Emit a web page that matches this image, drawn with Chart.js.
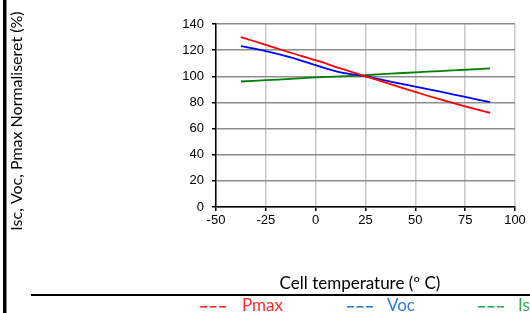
<!DOCTYPE html>
<html>
<head>
<meta charset="utf-8">
<script src="https://cdn.jsdelivr.net/npm/chart.js@4"></script>
<style>
  html, body { margin: 0; padding: 0; background: #fff; }
  #wrap { position: relative; width: 530px; height: 313px; }
</style>
</head>
<body>
<div id="wrap"><canvas id="grafico" width="530" height="313"></canvas></div>
<script>
// temperaturas de celda (x) y valores normalizados (%)
const temperaturas = [-37.5, -25, -12.5, 0, 12.5, 25, 37.5, 50, 62.5, 75, 87.5];
const valores_pmax = [130, 124, 118, 112.3, 106, 100, 94, 88, 82.3, 77, 72];
const valores_voc  = [123, 119.3, 114.5, 108.5, 103, 100, 96, 92, 88.2, 84.2, 80.2];
const valores_isc  = [96, 97, 98, 99.2, 100, 100.8, 102, 103, 104, 105, 106];

const etiquetas = ["Pmax", "Voc", "Isc"];
const tituloY = "Isc, Voc, Pmax Normaliseret (%)";
const tituloX = "Cell temperature (\u00BA C)";

const colorPmax = '#ff0000';
const colorVoc = '#0000ff';
const colorIsc = '#008000';

const leyendaPmax = '#ff2a2a';
const leyendaVoc = '#2b7ed4';
const leyendaIsc = '#2fb050';

function puntos(valores){
    return temperaturas.map((t, i) => ({x: t, y: valores[i]}));
}

// textos, leyenda y lineas negras del marco
const decoracion = {
    id: 'decoracion',
    afterDraw(chart){
        const c = chart.ctx;
        c.save();
        c.fillStyle = '#000';
        c.fillRect(3, 0, 3.5, 313);
        c.fillRect(31, 294, 499, 2);

        c.textAlign = 'center';
        c.textBaseline = 'middle';
        c.fillStyle = '#000';
        c.save();
        c.font = '16px Lato';
        c.translate(17, 121);
        c.rotate(-Math.PI / 2);
        c.fillText(tituloY, 0, 0);
        c.restore();
        c.font = '17px Lato';
        c.fillText(tituloX, 360, 284);

        const ley = [
            {x: 200, tx: 242, color: leyendaPmax, label: etiquetas[0]},
            {x: 347, tx: 387, color: leyendaVoc, label: etiquetas[1]},
            {x: 478, tx: 518, color: leyendaIsc, label: etiquetas[2]}
        ];
        c.textAlign = 'left';
        ley.forEach(l => {
            c.fillStyle = l.color;
            for (let k = 0; k < 3; k++) {
                c.fillRect(l.x + k * 9.5, 306, 7, 1.6);
            }
            c.fillText(l.label, l.tx, 306);
        });
        c.restore();
    }
};

function grafico_lineas(){
    const ctx = document.getElementById("grafico");
    new Chart(ctx, {
        type: 'line',
        data: {
            datasets: [{
                label: etiquetas[0],
                data: puntos(valores_pmax),
                borderColor: colorPmax,
                backgroundColor: colorPmax,
                borderWidth: 1.8,
                pointRadius: 0,
                tension: 0.3,
                fill: false
            },
            {
                label: etiquetas[1],
                data: puntos(valores_voc),
                borderColor: colorVoc,
                backgroundColor: colorVoc,
                borderWidth: 1.8,
                pointRadius: 0,
                tension: 0.3,
                fill: false
            },
            {
                label: etiquetas[2],
                data: puntos(valores_isc),
                borderColor: colorIsc,
                backgroundColor: colorIsc,
                borderWidth: 1.8,
                pointRadius: 0,
                tension: 0.3,
                fill: false
            }]
        },
        options: {
            responsive: false,
            animation: false,
            layout: { padding: { left: 0, top: 24, right: 15, bottom: 0 } },
            plugins: { legend: { display: false }, tooltip: { enabled: false } },
            scales: {
                x: {
                    type: 'linear',
                    min: -50,
                    max: 100,
                    afterFit(scale){ scale.height = 106; },
                    ticks: {
                        stepSize: 12.5,
                        autoSkip: false,
                        maxRotation: 0,
                        padding: 2,
                        color: '#000',
                        font: { family: 'Liberation Sans', size: 13 },
                        callback: v => (v % 25 === 0 ? v : null)
                    },
                    grid: { color: '#c8c8c8', lineWidth: 1.5, tickColor: '#000', tickLength: 4 },
                    border: { color: '#000', width: 1.5 }
                },
                y: {
                    min: 0,
                    max: 140,
                    afterFit(scale){ scale.width = 216; },
                    ticks: {
                        stepSize: 20,
                        padding: 8,
                        color: '#000',
                        font: { family: 'Liberation Sans', size: 13 }
                    },
                    grid: { color: '#8c8c8c', lineWidth: 1.5, tickColor: '#000', tickLength: 4 },
                    border: { color: '#000', width: 1.5 }
                }
            }
        },
        plugins: [decoracion]
    });
}

grafico_lineas();
</script>
</body>
</html>
